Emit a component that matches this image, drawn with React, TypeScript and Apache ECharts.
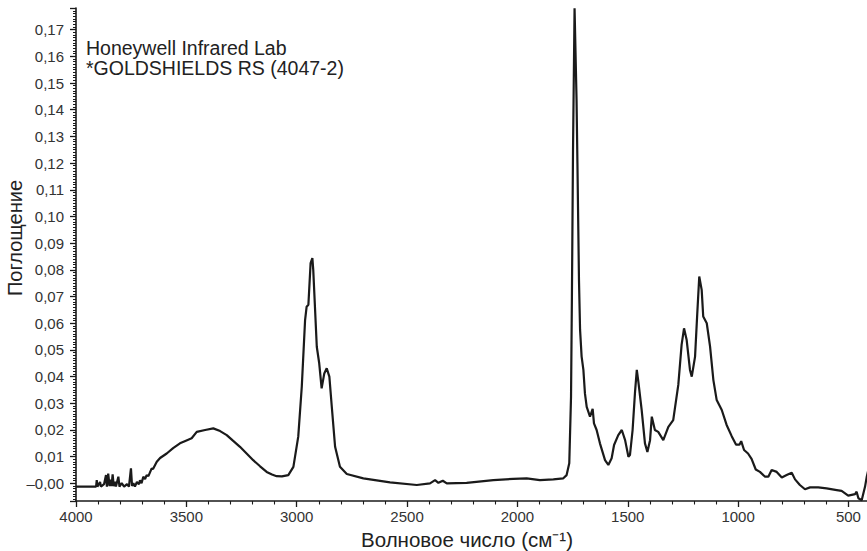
import React, { useEffect, useRef } from 'react';
import * as echarts from 'echarts';

// Wavenumber (cm^-1) and absorbance
const wavenumbers = [
  4000, 3909, 3906, 3903, 3891, 3887, 3873, 3864, 3860, 3854,
  3848, 3844, 3839, 3834, 3829, 3823, 3819, 3808, 3803, 3793,
  3782, 3769, 3760, 3751, 3746, 3740, 3733, 3724, 3715, 3710,
  3703, 3695, 3687, 3680, 3672, 3657, 3651, 3634, 3619, 3589,
  3560, 3529, 3502, 3476, 3453, 3415, 3378, 3347, 3317, 3289,
  3257, 3227, 3197, 3166, 3136, 3112, 3091, 3067, 3038, 3015,
  2993, 2977, 2962, 2955, 2947, 2937, 2929, 2925, 2909, 2898,
  2887, 2875, 2864, 2852, 2841, 2826, 2804, 2773, 2698, 2577,
  2456, 2396, 2373, 2358, 2338, 2320, 2230, 2109, 2019, 1958,
  1898, 1837, 1792, 1777, 1765, 1757, 1753, 1748, 1741, 1732,
  1728, 1724, 1721, 1716, 1709, 1701, 1694, 1686, 1671, 1659,
  1653, 1641, 1626, 1603, 1588, 1573, 1562, 1543, 1527, 1512,
  1497, 1490, 1478, 1467, 1459, 1452, 1437, 1422, 1411, 1399,
  1391, 1377, 1362, 1339, 1316, 1294, 1271, 1256, 1245, 1233,
  1218, 1210, 1195, 1185, 1176, 1165, 1158, 1142, 1127, 1112,
  1097, 1074, 1052, 1029, 1009, 994, 986, 973, 955, 939,
  920, 901, 878, 863, 848, 825, 802, 780, 757, 742,
  720, 697, 674, 637, 599, 553, 531, 501, 470, 463,
  455, 440, 425, 417, 402,
];

const absorbance = [
  -0.0012, -0.0012, 0.0012, -0.0012, 0.0005, -0.0012, -0.0003, 0.0031, -0.0012, 0.0037,
  -0.001, 0.0014, -0.001, 0.0034, -0.001, 0.0006, -0.0012, 0.0025, -0.0012, 0.0001,
  -0.0012, -0.0003, -0.0012, 0.0056, -0.001, 0.0001, -0.0012, 0.0005, -0.0003, 0.0012,
  0.0001, 0.0025, 0.0016, 0.0031, 0.0027, 0.0056, 0.0054, 0.0081, 0.0095, 0.0112,
  0.0132, 0.015, 0.016, 0.0169, 0.0193, 0.02, 0.0206, 0.0196, 0.0181, 0.016,
  0.0137, 0.0112, 0.0087, 0.0064, 0.0043, 0.0033, 0.0027, 0.0026, 0.0031, 0.0062,
  0.0175, 0.0362, 0.0612, 0.0662, 0.0669, 0.0825, 0.0844, 0.08, 0.0512, 0.045,
  0.0356, 0.0412, 0.0431, 0.04, 0.0287, 0.0137, 0.0062, 0.0035, 0.0019, 0.0004,
  -0.0006, 0, 0.0012, 0.0002, 0.001, 0, 0.0002, 0.0012, 0.0017, 0.0019,
  0.0012, 0.0015, 0.0019, 0.0031, 0.0075, 0.0325, 0.07, 0.125, 0.178, 0.1437,
  0.12, 0.095, 0.0762, 0.0575, 0.0475, 0.0425, 0.0337, 0.0287, 0.025, 0.0279,
  0.0225, 0.02, 0.015, 0.0087, 0.0069, 0.0094, 0.0144, 0.0181, 0.02, 0.0162,
  0.01, 0.0106, 0.02, 0.0343, 0.0425, 0.0381, 0.0275, 0.015, 0.0118, 0.0162,
  0.025, 0.02, 0.0193, 0.0162, 0.0212, 0.0237, 0.0369, 0.0519, 0.0581, 0.0537,
  0.0425, 0.04, 0.0475, 0.0637, 0.0775, 0.0725, 0.0625, 0.06, 0.0512, 0.0387,
  0.0312, 0.0275, 0.0219, 0.0177, 0.0145, 0.0145, 0.0158, 0.0125, 0.0112, 0.0092,
  0.0052, 0.0043, 0.0025, 0.0025, 0.005, 0.0043, 0.0022, 0.0031, 0.004, 0.0015,
  -0.0006, -0.0022, -0.0015, -0.0015, -0.0019, -0.0025, -0.0028, -0.0046, -0.004, -0.0031,
  -0.0056, -0.0063, -0.0013, 0.0025, 0.008,
];

const xTickValues = [4000, 3500, 3000, 2500, 2000, 1500, 1000, 500];
const annotationLines = ['Honeywell Infrared Lab', '*GOLDSHIELDS RS (4047-2)'];
const xAxisTitle = 'Волновое число (см⁻¹)';
const yAxisTitle = 'Поглощение';

const FONT = '"Liberation Sans", Arial, Helvetica, sans-serif';
const INK = '#1a1a1a';

export default function App() {
  const ref = useRef<HTMLDivElement>(null);

  useEffect(() => {
    if (!ref.current) return;
    const chart = echarts.init(ref.current, undefined, { renderer: 'svg' });
    const data = wavenumbers.map((w, i) => [w, absorbance[i]]);

    const annotationTexts = annotationLines.map((line, i) => ({
      type: 'text',
      x: 86,
      y: 38 + i * 20,
      style: {
        text: line,
        fontSize: 19.5,
        fill: '#222',
        fontFamily: FONT,
        align: 'left',
        verticalAlign: 'top',
      },
    }));

    chart.setOption({
      animation: false,
      backgroundColor: '#ffffff',
      grid: {
        left: 76,
        top: 8,
        bottom: 50,
        right: -91.8,
        containLabel: false,
        outerBoundsMode: 'none',
      },
      xAxis: {
        type: 'value',
        min: 0,
        max: 4000,
        interval: 500,
        inverse: true,
        axisLine: { show: true, onZero: false, lineStyle: { color: INK, width: 1.6 } },
        axisTick: { show: true, length: 6, lineStyle: { color: INK, width: 1.3 } },
        minorTick: { show: true, splitNumber: 5, length: 3.5, lineStyle: { color: INK, width: 1.1 } },
        splitLine: { show: false },
        axisLabel: {
          margin: 8,
          fontSize: 15,
          color: '#333',
          fontFamily: FONT,
          formatter: (v: number) => (xTickValues.indexOf(v) >= 0 ? String(v) : ''),
        },
      },
      yAxis: {
        type: 'value',
        min: -0.0066,
        max: 0.1781,
        splitNumber: 18,
        axisLine: { show: true, onZero: false, lineStyle: { color: INK, width: 1.6 } },
        axisTick: { show: true, length: 6, lineStyle: { color: INK, width: 1.3 } },
        minorTick: { show: true, splitNumber: 10, length: 3, lineStyle: { color: INK, width: 1 } },
        splitLine: { show: false },
        axisLabel: {
          margin: 12,
          fontSize: 15,
          color: '#333',
          fontFamily: FONT,
          showMinLabel: false,
          showMaxLabel: false,
          formatter: (v: number) => {
            const r = Math.round(v * 100);
            if (Math.abs(v * 100 - r) > 0.01) return '';
            if (r === 0) return '–0,00';
            return (r / 100).toFixed(2).replace('.', ',');
          },
        },
      },
      graphic: [
        ...annotationTexts,
        {
          type: 'text',
          x: 467,
          y: 539,
          style: {
            text: xAxisTitle,
            fontSize: 20.5,
            fill: '#222',
            fontFamily: FONT,
            align: 'center',
            verticalAlign: 'middle',
          },
        },
        {
          type: 'text',
          x: 15,
          y: 238,
          rotation: Math.PI / 2,
          style: {
            text: yAxisTitle,
            fontSize: 20,
            fill: '#222',
            fontFamily: FONT,
            align: 'center',
            verticalAlign: 'middle',
          },
        },
      ],
      series: [
        {
          type: 'line',
          data,
          showSymbol: false,
          symbol: 'none',
          lineStyle: { color: INK, width: 2.2 },
          smooth: false,
        },
      ],
    });

    return () => chart.dispose();
  }, []);

  return (
    <div
      ref={ref}
      style={{ position: 'fixed', left: 0, top: 0, width: 867, height: 551, background: '#fff' }}
    />
  );
}
